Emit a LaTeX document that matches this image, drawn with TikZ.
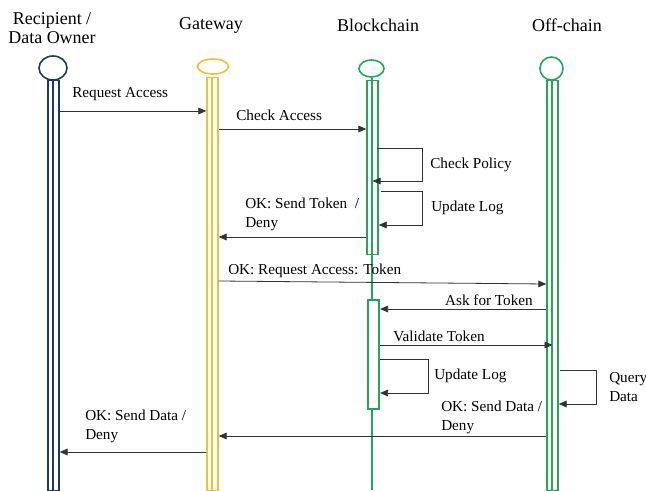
\documentclass[tikz,border=0pt]{standalone}
\usepackage{fontspec}
\setmainfont{Liberation Serif}
\usetikzlibrary{arrows.meta, shapes.geometric}

\definecolor{navy}{HTML}{1F3864}
\definecolor{gold}{HTML}{F0C232}
\definecolor{leaf}{HTML}{22A65A}

\tikzset{
  head/.style={ellipse, draw, line width=1.2pt, inner sep=0pt},
  bar/.style={rectangle, draw, line width=1pt, inner sep=0pt, minimum width=8.25pt, anchor=north},
  msg/.style={draw=black!80, line width=0.6pt, -{Triangle[length=6pt, width=5pt]}},
  title/.style={font=\fontsize{13.5}{14.25}\selectfont, align=center, inner sep=0pt},
  lbl/.style={font=\fontsize{11.4}{14.25}\selectfont, align=left, inner sep=0pt}
}

\begin{document}
\begin{tikzpicture}[x=0.75pt, y=-0.75pt]

    \useasboundingbox (0,0) rectangle (646,491);

    % Titles
    \node[title] (rect) at (52,28.5) {Recipient /\\Data Owner};
    \node[title] (gwt) at (211,25.5) {Gateway};
    \node[title] (bct) at (378,25.5) {Blockchain};
    \node[title] (oct) at (567,25.5) {Off-chain};

    % Heads
    \node[head, draw=navy, minimum width=21pt, minimum height=18pt] (rech) at (53,68) {};
    \node[head, draw=gold, minimum width=23.25pt, minimum height=11.25pt] (gwh) at (213,66.5) {};
    \node[head, draw=leaf, minimum width=18.75pt, minimum height=12.75pt] (bch) at (371.5,68.5) {};
    \node[head, draw=leaf, minimum width=17.25pt, minimum height=17.25pt] (och) at (551.5,68.5) {};

    % Lifelines
    \draw[leaf, line width=1pt] (bch.south -| 372,0) -- (372,490);
    \node[bar, draw=navy, minimum height=307.5pt] (recbar) at (53.5,80) {};
    \node[bar, draw=gold, minimum height=309.75pt] (gwbar) at (212.5,77) {};
    \node[bar, draw=leaf, minimum height=130.5pt] (bcbox) at (372.5,80) {};
    \node[bar, draw=leaf, fill=white, line width=1.6pt, minimum height=81.75pt] (bcbox2) at (373.5,299) {};
    \node[bar, draw=leaf, minimum height=307.5pt] (ocbar) at (552.5,80) {};
    \draw[navy, line width=1pt] (recbar.north -| 53,0) -- (recbar.south -| 53,0);
    \draw[gold, line width=1pt] (gwbar.north -| 212,0) -- (gwbar.south -| 212,0);
    \draw[leaf, line width=1pt] (ocbar.north -| 552,0) -- (ocbar.south -| 552,0);

    % Messages
    \draw[msg] (recbar.east |- 0,111) -- (gwbar.west |- 0,111);
    \node[lbl, anchor=west] (m1) at (72,94.5) {Request Access};

    \draw[msg] (gwbar.east |- 0,129) -- (bcbox.west |- 0,129);
    \node[lbl, anchor=west] (m2) at (236,115.5) {Check Access};

    \draw[msg] (377,148) -- (422,148) -- (422,181) -- (bcbox.center |- 0,181);
    \node[lbl, anchor=west] (m3) at (430,164.5) {Check Policy};

    \draw[msg] (381,191) -- (422,191) -- (422,225) -- (bcbox.east |- 0,225);
    \node[lbl, anchor=west] (m4) at (431,207.5) {Update Log};

    \draw[msg] (bcbox.west |- 0,237) -- (gwbar.east |- 0,237);
    \node[lbl, anchor=west] (m5) at (245,214) {OK: Send Token~~/\\Deny};

    \draw[msg] (gwbar.east |- 0,281) -- (ocbar.west |- 0,284);
    \node[lbl, anchor=west] (m6) at (228,270.5) {OK: Request Access: Token};

    \draw[msg] (ocbar.west |- 0,309) -- (bcbox2.east |- 0,309);
    \node[lbl, anchor=east] (m7) at (533,300.5) {Ask for Token};

    \draw[msg] (bcbox2.east |- 0,345) -- (ocbar.center |- 0,345);
    \node[lbl, anchor=west] (m8) at (393,336.5) {Validate Token};

    \draw[msg] (bcbox2.east |- 0,359) -- (428,359) -- (428,393) -- (bcbox2.east |- 0,393);
    \node[lbl, anchor=west] (m9) at (434,375.5) {Update Log};

    \draw[msg] (560,370) -- (596,370) -- (596,404) -- (ocbar.east |- 0,404);
    \node[lbl, anchor=west] (m10) at (609,387.5) {Query\\Data};

    \draw[msg] (ocbar.west |- 0,436) -- (gwbar.east |- 0,436);
    \node[lbl, anchor=west] (m11) at (441,417) {OK: Send Data /\\Deny};

    \draw[msg] (gwbar.west |- 0,452) -- (recbar.east |- 0,452);
    \node[lbl, anchor=west] (m12) at (85,426) {OK: Send Data /\\Deny};

\end{tikzpicture}
\end{document}
